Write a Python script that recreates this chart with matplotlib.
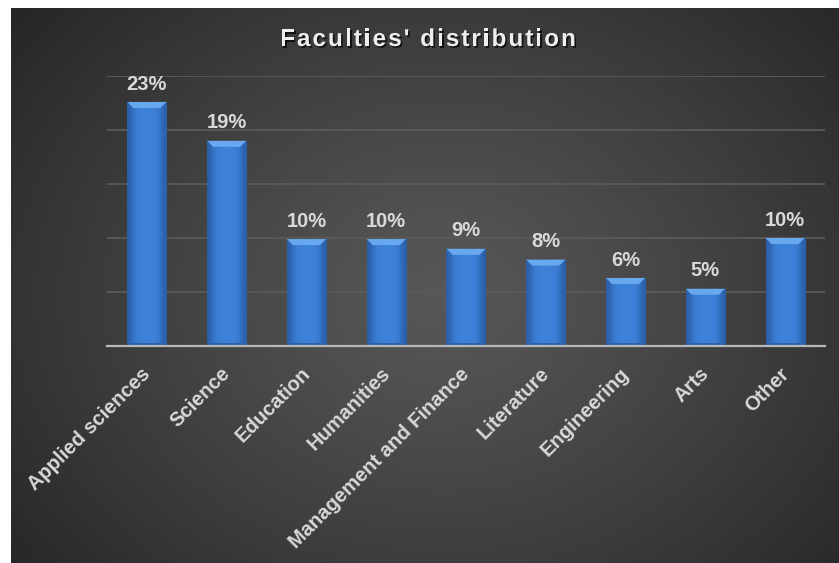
import numpy as np
import matplotlib
matplotlib.use("Agg")
import matplotlib.pyplot as plt
import matplotlib.patheffects as pe
import matplotlib.transforms as mtransforms
from matplotlib.patches import Polygon
from matplotlib.font_manager import FontProperties
from matplotlib.colors import to_rgb, LinearSegmentedColormap

# ---- data ----
categories = ["Applied sciences", "Science", "Education", "Humanities",
              "Management and Finance", "Literature", "Engineering", "Arts", "Other"]
shares = [22.6, 19.0, 9.9, 9.9, 9.0, 8.0, 6.3, 5.3, 10.0]
title = "Faculties' distribution"

FONT = "Liberation Sans"
W, H = 839, 563
fig = plt.figure(figsize=(W / 100, H / 100), dpi=100, facecolor="white")

# ---- dark radial-gradient backdrop ----
bg = fig.add_axes([11 / W, 0, (W - 11) / W, (H - 8) / H], zorder=0)
gy, gx = np.mgrid[0:1:300j, 0:1:450j]
r = np.sqrt(((gx - 0.52) / 0.66) ** 2 + ((gy - 0.52) / 0.8) ** 2)
t = np.clip(r, 0, 1) ** 1.2
inner = np.array(to_rgb("#575757"))
outer = np.array(to_rgb("#272727"))
img = inner[None, None, :] * (1 - t[..., None]) + outer[None, None, :] * t[..., None]
bg.imshow(img, extent=(0, 1, 0, 1), aspect="auto", origin="upper", interpolation="bilinear")
bg.set_axis_off()

# ---- bar chart ----
ax = fig.add_axes([107 / W, 1 - 346 / H, (825 - 107) / W, (346 - 76) / H], zorder=1)
ax.patch.set_alpha(0)
x = np.arange(len(categories))
bars = ax.bar(x, shares, width=0.49, color="#3c7ed6", zorder=3, linewidth=0)

ax.set_xlim(-0.5, len(categories) - 0.5)
ax.set_ylim(0, 25)
ax.set_yticks(np.arange(0, 26, 5))
ax.yaxis.grid(True, color="#5a5a5a", linewidth=1.3, zorder=1)
ax.set_axisbelow(True)
ax.tick_params(axis="y", left=False, labelleft=False)
for side in ("left", "right", "top"):
    ax.spines[side].set_visible(False)
ax.spines["bottom"].set_color("#b8b8b8")
ax.spines["bottom"].set_linewidth(1.6)
ax.spines["bottom"].set_zorder(5)

# shading across each bar plus bevelled top and bottom
shade = np.array([[0.0, 0.75, 0.95, 1.0, 1.0, 0.95, 0.75, 0.0]])
bar_cmap = LinearSegmentedColormap.from_list("barshade", ["#2a5ea8", "#3e82da"])
side_px = 6.0
px_per_x = (825 - 107) / len(categories)
px_per_y = (346 - 76) / 25
for b in bars:
    x0, w, h = b.get_x(), b.get_width(), b.get_height()
    im = ax.imshow(shade, cmap=bar_cmap, vmin=0.0, vmax=1.0,
                   extent=(x0, x0 + w, 0, h), aspect="auto", zorder=3,
                   interpolation="bicubic")
    im.set_clip_path(b)
    dx = side_px / px_per_x
    dy = side_px / px_per_y
    top = Polygon([(x0, h), (x0 + w, h), (x0 + w - dx, h - dy), (x0 + dx, h - dy)],
                  closed=True, facecolor="#68a8ef", edgecolor="none", zorder=4)
    ax.add_patch(top)
    bot = Polygon([(x0, 0), (x0 + w, 0), (x0 + w - dx * 0.6, dy * 0.5), (x0 + dx * 0.6, dy * 0.5)],
                  closed=True, facecolor="#2c61aa", edgecolor="none", zorder=4)
    ax.add_patch(bot)

ax.set_xticks(x)
ax.set_xticklabels(categories, rotation=45, ha="right", rotation_mode="anchor",
                   fontsize=14.5, fontweight="bold", color="#d9d9d9", family=FONT)
ax.tick_params(axis="x", length=0, pad=13)
shift = mtransforms.ScaledTranslation(-6 / 100, 0, fig.dpi_scale_trans)
for lab in ax.get_xticklabels():
    lab.set_transform(lab.get_transform() + shift)

for xi, v in zip(x, shares):
    ax.annotate(f"{v:.0f}%", (xi, v), xytext=(0, 6), textcoords="offset points",
                ha="center", va="bottom", fontsize=14.5, fontweight="bold",
                color="#d9d9d9", family=FONT, zorder=6)

# ---- letter-spaced title ----
renderer = fig.canvas.get_renderer()
prop = FontProperties(family=FONT, weight="bold", size=17.5)


def advance(s):
    w_bar = renderer.get_text_width_height_descent("|", prop, ismath=False)[0]
    return renderer.get_text_width_height_descent(s + "|", prop, ismath=False)[0] - w_bar


spacing = 2.0
total = advance(title) + spacing * (len(title) - 1)
start = 428 - total / 2
base_y = 1 - 46 / H
for i, ch in enumerate(title):
    if ch == " ":
        continue
    xpos = start + advance(title[:i]) + i * spacing
    fig.text(xpos / W, base_y, ch, fontproperties=prop, color="#eeeeee",
             ha="left", va="baseline", zorder=10,
             path_effects=[pe.withSimplePatchShadow(offset=(1.2, -1.2),
                                                    shadow_rgbFace="black", alpha=0.7)])

fig.savefig("out.png", dpi=100, facecolor="white")
